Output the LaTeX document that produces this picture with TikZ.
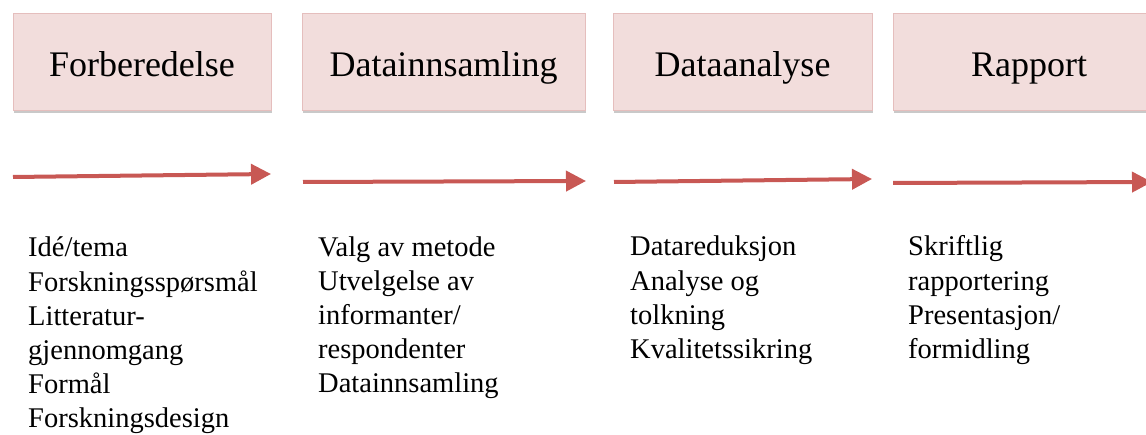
\documentclass[tikz,border=0pt]{standalone}
\usepackage{fontspec}
\setmainfont{Liberation Serif}
\usetikzlibrary{arrows.meta,shadows}

\definecolor{boxpink}{RGB}{242,221,220}
\definecolor{boxedge}{RGB}{229,190,189}
\definecolor{arrowred}{RGB}{200,88,84}

\begin{document}
\begin{tikzpicture}[x=1pt,y=-1pt,
  phase/.style={draw=boxedge, fill=boxpink, line width=0.8pt,
    minimum height=97pt, inner sep=0pt, text height=31pt, text depth=0pt,
    font=\fontsize{36}{43}\selectfont,
    drop shadow={shadow xshift=1pt, shadow yshift=-3pt, opacity=0.3, fill=black!70}},
  flow/.style={draw=arrowred, line width=4pt,
    -{Triangle[length=20pt,width=20pt]}},
  tasks/.style={anchor=base west, align=left, inner sep=0pt,
    font=\fontsize{28.5}{34.2}\selectfont}]
  \useasboundingbox (0,0) rectangle (1146,435);

  \node[phase, minimum width=258pt] (prep) at (142,61.5) {Forberedelse};
  \node[phase, minimum width=283pt] (collect) at (443.5,61.5) {Datainnsamling};
  \node[phase, minimum width=259pt] (analysis) at (742.5,61.5) {Dataanalyse};
  \node[phase, minimum width=272pt] (report) at (1029,61.5) {Rapport};

  \coordinate (f1a) at (13,177);  \coordinate (f1b) at (271,174);
  \coordinate (f2a) at (303,182); \coordinate (f2b) at (586,181);
  \coordinate (f3a) at (614,182); \coordinate (f3b) at (872,179);
  \coordinate (f4a) at (893,183); \coordinate (f4b) at (1152,182);
  \draw[flow] (f1a) -- (f1b);
  \draw[flow] (f2a) -- (f2b);
  \draw[flow] (f3a) -- (f3b);
  \draw[flow] (f4a) -- (f4b);

  % base anchor sits on the last line
  \node[tasks] (prepitems) at (28,428) {Idé/tema\\Forskningsspørsmål\\Litteratur-\\gjennomgang\\Formål\\Forskningsdesign};
  \node[tasks] (collectitems) at (318,393) {Valg av metode\\Utvelgelse av\\informanter/\\respondenter\\Datainnsamling};
  \node[tasks] (analysisitems) at (630,358.5) {Datareduksjon\\Analyse og\\tolkning\\Kvalitetssikring};
  \node[tasks] (reportitems) at (908,358.5) {Skriftlig\\rapportering\\Presentasjon/\\formidling};
\end{tikzpicture}
\end{document}
